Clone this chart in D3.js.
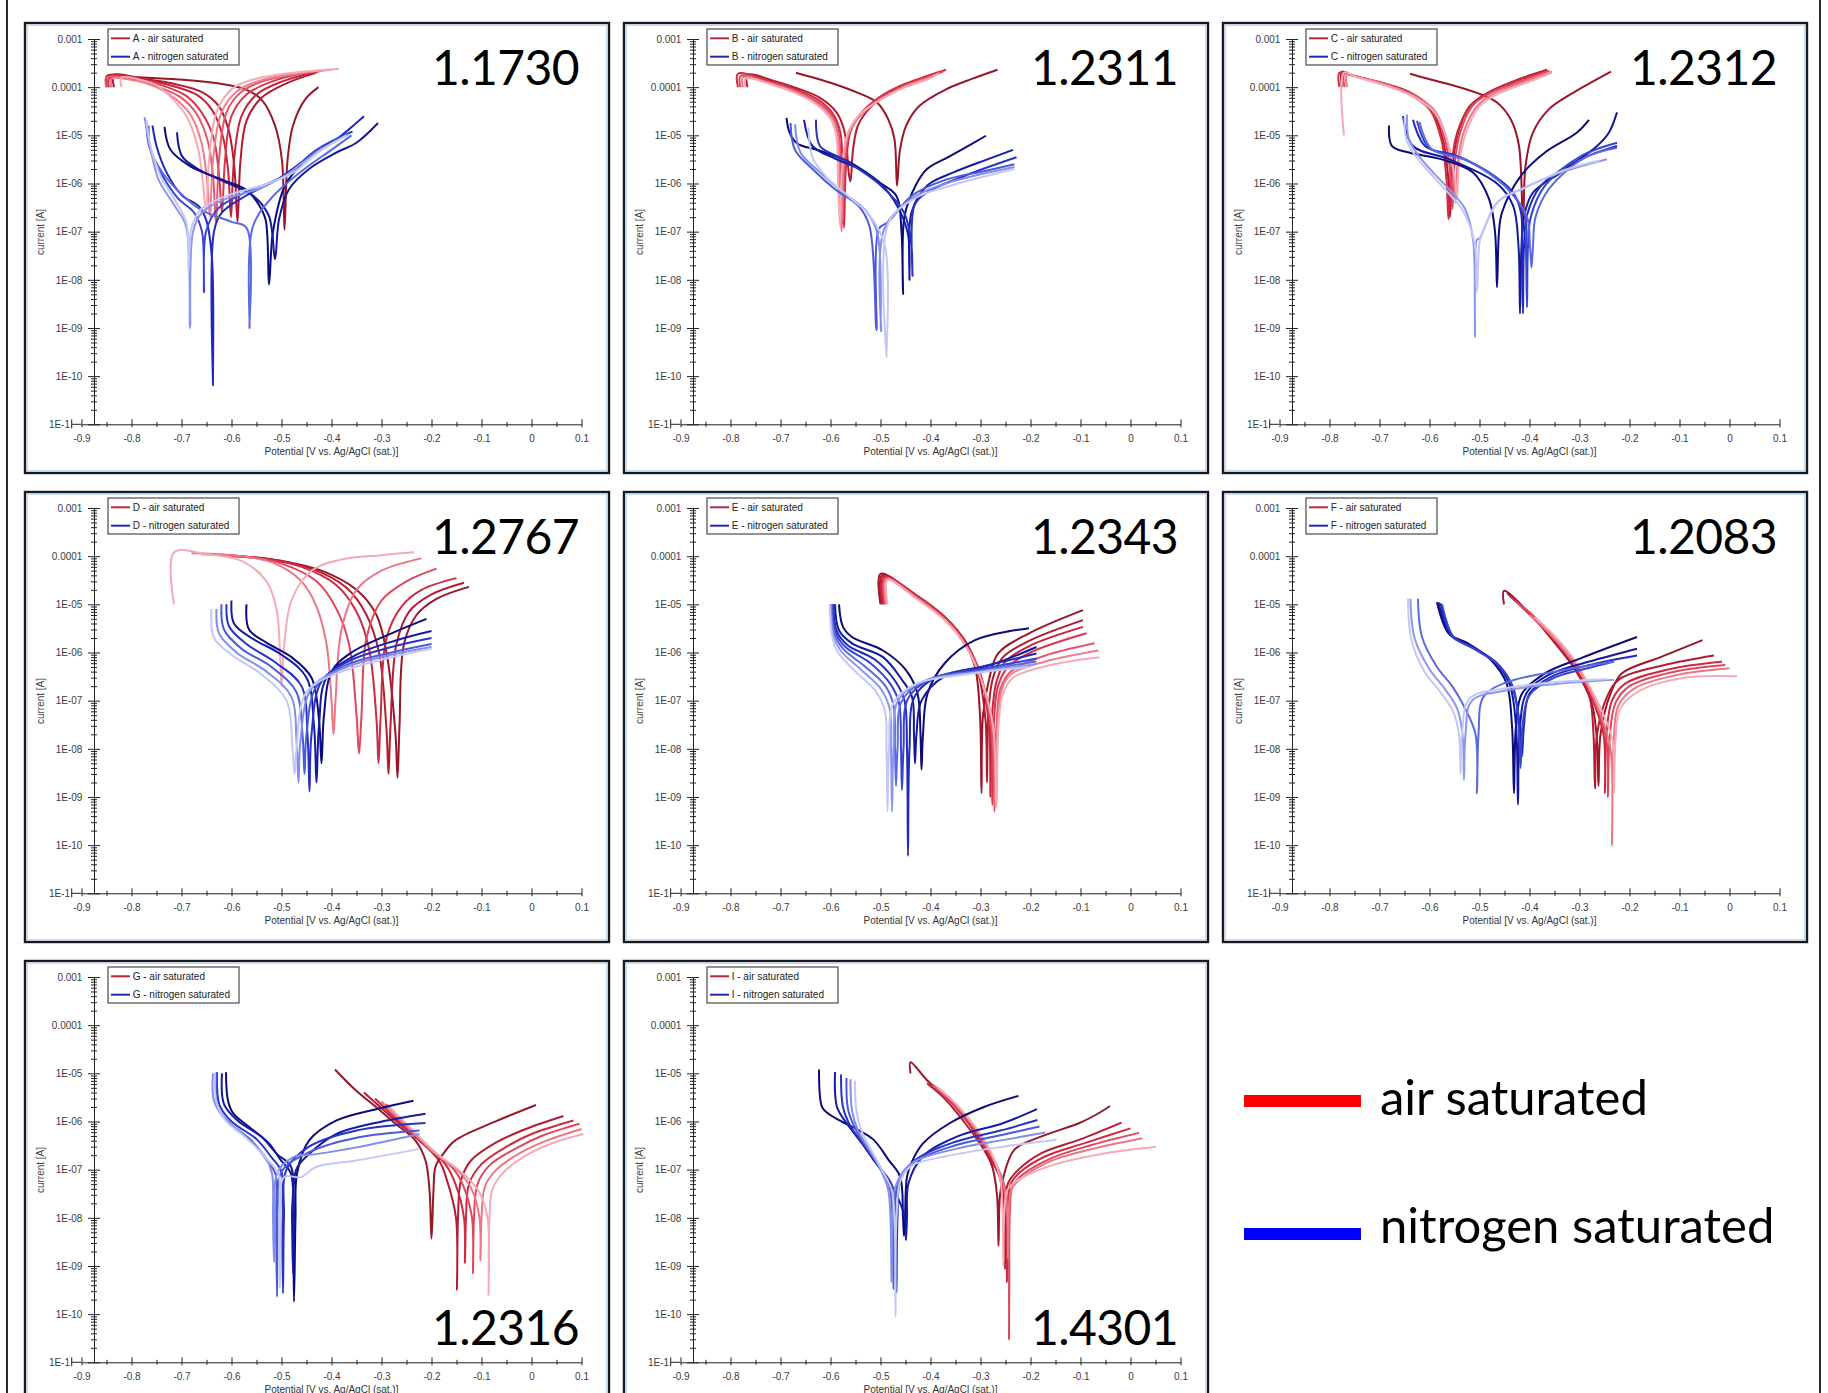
<!DOCTYPE html>
<html>
<head>
<meta charset="utf-8">
<script src="https://cdn.jsdelivr.net/npm/d3@7"></script>
<style>
  body { margin: 0; background: #fff; overflow: hidden; }
  svg { display: block; }
</style>
</head>
<body>
<svg id="fig" width="1828" height="1393"></svg>
<script>
// axis ticks
var potentialTicks = [-0.9, -0.8, -0.7, -0.6, -0.5, -0.4, -0.3, -0.2, -0.1, 0, 0.1];
var potentialLabels = ["-0.9", "-0.8", "-0.7", "-0.6", "-0.5", "-0.4", "-0.3", "-0.2", "-0.1", "0", "0.1"];
var potentialMinor = [-0.85, -0.75, -0.65, -0.55, -0.45, -0.35, -0.25, -0.15, -0.05, 0.05];
var currentTicks = [1e-3, 1e-4, 1e-5, 1e-6, 1e-7, 1e-8, 1e-9, 1e-10, 1e-11];
var currentLabels = ["0.001", "0.0001", "1E-05", "1E-06", "1E-07", "1E-08", "1E-09", "1E-10", "1E-1"];

var panelLetters = ["A", "B", "C", "D", "E", "F", "G", "I"];
var steelGrades = ["1.1730", "1.2311", "1.2312", "1.2767", "1.2343", "1.2083", "1.2316", "1.4301"];

// curves: [potential V, current A], darkest first
var A_air = [
  [[-0.849,1e-4],[-0.849,1.7e-4],[-0.785,1.6e-4],[-0.706,1.45e-4],[-0.627,1.2e-4],[-0.572,9e-5],[-0.540,5.5e-5],[-0.513,1.6e-5],[-0.499,3e-6],[-0.494,1.1e-7],[-0.488,3e-6],[-0.477,1.6e-5],[-0.453,5.5e-5],[-0.426,1e-4]],
  [[-0.835,1e-4],[-0.835,1.8e-4],[-0.78,1.5e-4],[-0.72,1.2e-4],[-0.66,8e-5],[-0.625,4e-5],[-0.605,1.2e-5],[-0.594,2e-6],[-0.588,1.6e-7],[-0.582,3e-6],[-0.57,2e-5],[-0.54,6e-5],[-0.49,1.2e-4],[-0.43,2e-4]],
  [[-0.84,1e-4],[-0.84,1.7e-4],[-0.78,1.5e-4],[-0.73,1.15e-4],[-0.67,7e-5],[-0.64,3.5e-5],[-0.618,1e-5],[-0.607,2e-6],[-0.601,2e-7],[-0.595,3e-6],[-0.58,2.5e-5],[-0.55,7e-5],[-0.50,1.3e-4],[-0.42,2.2e-4]],
  [[-0.845,1e-4],[-0.845,1.6e-4],[-0.79,1.45e-4],[-0.74,1.1e-4],[-0.69,6.5e-5],[-0.66,3e-5],[-0.636,9e-6],[-0.625,1.5e-6],[-0.619,2.5e-7],[-0.613,3e-6],[-0.60,2.5e-5],[-0.57,7e-5],[-0.52,1.3e-4],[-0.44,2.1e-4]],
  [[-0.85,1e-4],[-0.85,1.6e-4],[-0.79,1.4e-4],[-0.75,1.05e-4],[-0.70,6e-5],[-0.67,2.8e-5],[-0.648,8e-6],[-0.637,1.5e-6],[-0.631,1.5e-7],[-0.625,3e-6],[-0.61,3e-5],[-0.58,8e-5],[-0.53,1.4e-4],[-0.41,2.3e-4]],
  [[-0.84,1e-4],[-0.84,1.5e-4],[-0.79,1.35e-4],[-0.75,1e-4],[-0.71,5.5e-5],[-0.68,2.5e-5],[-0.66,7e-6],[-0.649,1.2e-6],[-0.643,2e-7],[-0.637,3e-6],[-0.62,3e-5],[-0.59,8e-5],[-0.54,1.4e-4],[-0.40,2.3e-4]],
  [[-0.82,1e-4],[-0.82,1.6e-4],[-0.78,1.4e-4],[-0.75,1.1e-4],[-0.72,6e-5],[-0.69,2.5e-5],[-0.668,6e-6],[-0.657,1e-6],[-0.651,2.5e-7],[-0.645,3e-6],[-0.63,3e-5],[-0.60,9e-5],[-0.55,1.5e-4],[-0.385,2.4e-4]]
];
var A_n2 = [
  [[-0.734,1.5e-5],[-0.722,5e-6],[-0.683,2.3e-6],[-0.619,1.2e-6],[-0.572,7.6e-7],[-0.548,4e-7],[-0.532,1.8e-7],[-0.525,8e-9],[-0.517,1e-7],[-0.493,9e-7],[-0.46,2.5e-6]],
  [[-0.709,1.15e-5],[-0.699,3.7e-6],[-0.667,2e-6],[-0.619,1.15e-6],[-0.556,5.5e-7],[-0.525,2.1e-7],[-0.513,2.7e-8],[-0.505,1.8e-7],[-0.485,7.6e-7],[-0.445,2e-6],[-0.39,4.4e-6],[-0.35,7e-6],[-0.307,1.8e-5]],
  [[-0.758,1.6e-5],[-0.75,6e-6],[-0.73,1.7e-6],[-0.698,5.5e-7],[-0.667,3.5e-7],[-0.651,1.8e-7],[-0.639,2.7e-8],[-0.637,6.5e-11],[-0.635,1e-7],[-0.619,2.5e-7],[-0.572,5.5e-7],[-0.509,1.2e-6],[-0.461,2.7e-6],[-0.39,8.3e-6],[-0.335,2.5e-5]],
  [[-0.766,1.6e-5],[-0.762,5e-6],[-0.738,1.45e-6],[-0.706,4.8e-7],[-0.675,2.5e-7],[-0.659,1e-7],[-0.655,5.5e-9],[-0.651,1e-7],[-0.627,3e-7],[-0.572,6.5e-7],[-0.493,1.45e-6],[-0.43,5e-6],[-0.358,1.2e-5]],
  [[-0.77,2e-5],[-0.765,6e-6],[-0.74,1.8e-6],[-0.70,6e-7],[-0.66,2.8e-7],[-0.60,1.6e-7],[-0.57,1.2e-7],[-0.564,1e-9],[-0.558,1.2e-7],[-0.52,5e-7],[-0.46,1.8e-6],[-0.40,5e-6],[-0.36,1e-5]],
  [[-0.774,2.4e-5],[-0.763,6e-6],[-0.746,1.2e-6],[-0.714,3.5e-7],[-0.691,1.3e-7],[-0.683,1e-9],[-0.677,1e-7],[-0.659,2.5e-7],[-0.611,4.8e-7],[-0.548,7.6e-7],[-0.493,1.45e-6],[-0.43,4.4e-6],[-0.366,1.05e-5]],
  [[-0.77,2e-5],[-0.76,5e-6],[-0.74,1.3e-6],[-0.71,4e-7],[-0.69,1.5e-7],[-0.686,1.5e-8],[-0.68,1.2e-7],[-0.66,3e-7],[-0.60,6e-7],[-0.54,9e-7],[-0.48,1.6e-6],[-0.42,5e-6],[-0.37,1e-5]]
];

var B_air = [
  [[-0.669,2e-4],[-0.636,1.6e-4],[-0.591,1.15e-4],[-0.545,7.6e-5],[-0.507,4.8e-5],[-0.484,2.1e-5],[-0.472,8.3e-6],[-0.467,9e-7],[-0.461,5e-6],[-0.449,1.55e-5],[-0.423,4e-5],[-0.369,9e-5],[-0.316,1.5e-4],[-0.266,2.3e-4]],
  [[-0.766,1e-4],[-0.766,1.8e-4],[-0.713,1.35e-4],[-0.667,9.5e-5],[-0.621,6e-5],[-0.588,3e-5],[-0.572,1.2e-5],[-0.563,1.5e-6],[-0.560,1.1e-6],[-0.555,5e-6],[-0.545,1.6e-5],[-0.52,3.8e-5],[-0.48,7.5e-5],[-0.43,1.3e-4],[-0.38,2e-4]],
  [[-0.785,1e-4],[-0.785,1.9e-4],[-0.72,1.3e-4],[-0.67,9e-5],[-0.625,5.5e-5],[-0.594,2.7e-5],[-0.58,1.1e-5],[-0.576,1e-6],[-0.573,1.2e-7],[-0.569,2.3e-6],[-0.56,1.2e-5],[-0.537,3e-5],[-0.499,6.5e-5],[-0.453,1.15e-4],[-0.407,1.7e-4],[-0.369,2.3e-4]],
  [[-0.78,1e-4],[-0.78,1.7e-4],[-0.72,1.25e-4],[-0.67,8.5e-5],[-0.627,5e-5],[-0.596,2.5e-5],[-0.583,1e-5],[-0.579,1e-6],[-0.576,1.5e-7],[-0.572,2e-6],[-0.563,1.1e-5],[-0.54,2.8e-5],[-0.50,6e-5],[-0.45,1.1e-4],[-0.40,1.7e-4],[-0.375,2.1e-4]],
  [[-0.775,1e-4],[-0.775,1.6e-4],[-0.72,1.2e-4],[-0.67,8e-5],[-0.63,4.8e-5],[-0.598,2.4e-5],[-0.585,1e-5],[-0.582,1e-6],[-0.578,1e-7],[-0.574,2e-6],[-0.565,1e-5],[-0.54,2.6e-5],[-0.50,5.5e-5],[-0.45,1.05e-4],[-0.40,1.6e-4],[-0.38,2e-4]],
  [[-0.77,1e-4],[-0.77,1.5e-4],[-0.72,1.15e-4],[-0.67,7.5e-5],[-0.63,4.5e-5],[-0.60,2.2e-5],[-0.588,9e-6],[-0.585,1e-6],[-0.581,1.3e-7],[-0.577,2e-6],[-0.567,1e-5],[-0.545,2.5e-5],[-0.50,5.5e-5],[-0.45,1e-4],[-0.40,1.55e-4],[-0.385,1.9e-4]]
];
var B_n2 = [
  [[-0.688,2.3e-5],[-0.682,1.15e-5],[-0.667,6.8e-6],[-0.621,4.8e-6],[-0.56,2.7e-6],[-0.499,1e-6],[-0.468,5.5e-7],[-0.458,1e-7],[-0.455,5e-9],[-0.452,2.1e-7],[-0.43,9e-7],[-0.407,2e-6],[-0.361,3.7e-6],[-0.289,9.8e-6]],
  [[-0.653,2.1e-5],[-0.636,6e-6],[-0.591,3.3e-6],[-0.529,1.7e-6],[-0.484,6.5e-7],[-0.446,1e-7],[-0.442,1e-8],[-0.438,2.5e-7],[-0.407,9e-7],[-0.354,1.7e-6],[-0.285,3.2e-6],[-0.235,5e-6]],
  [[-0.629,2.1e-5],[-0.621,6e-6],[-0.575,3.2e-6],[-0.499,9e-7],[-0.453,2.5e-7],[-0.438,5e-8],[-0.436,1.2e-8],[-0.432,3.5e-7],[-0.407,6.5e-7],[-0.331,1.45e-6],[-0.228,3.5e-6]],
  [[-0.68,1.8e-5],[-0.671,5e-6],[-0.636,2e-6],[-0.591,7.6e-7],[-0.545,3.5e-7],[-0.522,1.3e-7],[-0.508,9e-10],[-0.503,1.15e-7],[-0.484,1.6e-7],[-0.438,5.5e-7],[-0.369,1.2e-6],[-0.293,1.8e-6],[-0.232,2.5e-6]],
  [[-0.671,1.7e-5],[-0.66,4.4e-6],[-0.621,1.7e-6],[-0.575,6.5e-7],[-0.529,2.7e-7],[-0.506,9e-8],[-0.499,8.5e-10],[-0.493,1.1e-7],[-0.438,4.8e-7],[-0.369,1e-6],[-0.232,2.2e-6]],
  [[-0.644,1.45e-5],[-0.636,3.5e-6],[-0.606,1.3e-6],[-0.56,5e-7],[-0.522,2.2e-7],[-0.491,5e-8],[-0.488,2.5e-10],[-0.484,1.5e-7],[-0.43,5e-7],[-0.36,9e-7],[-0.232,2e-6]]
];

var C_air = [
  [[-0.639,1.9e-4],[-0.609,1.55e-4],[-0.561,1.15e-4],[-0.505,7.6e-5],[-0.465,4.8e-5],[-0.437,2.1e-5],[-0.421,6e-6],[-0.413,1e-7],[-0.408,2.3e-6],[-0.393,1.15e-5],[-0.361,3.5e-5],[-0.313,7.6e-5],[-0.237,2.1e-4]],
  [[-0.775,1e-4],[-0.775,2.1e-4],[-0.753,1.75e-4],[-0.697,1.25e-4],[-0.641,8e-5],[-0.598,3.8e-5],[-0.574,9e-6],[-0.563,1.5e-6],[-0.559,2e-7],[-0.554,2.3e-6],[-0.542,1.2e-5],[-0.52,4e-5],[-0.485,7.5e-5],[-0.43,1.35e-4],[-0.365,2.3e-4]],
  [[-0.78,1e-4],[-0.78,2e-4],[-0.75,1.7e-4],[-0.70,1.2e-4],[-0.645,7.5e-5],[-0.60,3.5e-5],[-0.576,8e-6],[-0.566,1.2e-6],[-0.562,1.8e-7],[-0.557,2e-6],[-0.545,1.1e-5],[-0.52,3.8e-5],[-0.485,7e-5],[-0.43,1.3e-4],[-0.37,2.1e-4]],
  [[-0.77,1e-4],[-0.77,1.9e-4],[-0.745,1.65e-4],[-0.69,1.2e-4],[-0.64,7.5e-5],[-0.595,3.5e-5],[-0.57,9e-6],[-0.558,1.5e-6],[-0.554,3e-7],[-0.55,2.5e-6],[-0.538,1.2e-5],[-0.515,4e-5],[-0.48,7.5e-5],[-0.42,1.3e-4],[-0.36,2.2e-4]],
  [[-0.765,1e-4],[-0.765,1.8e-4],[-0.74,1.6e-4],[-0.69,1.15e-4],[-0.635,7e-5],[-0.59,3.3e-5],[-0.565,8e-6],[-0.552,1.5e-6],[-0.548,4e-7],[-0.544,2.5e-6],[-0.53,1.3e-5],[-0.505,4e-5],[-0.47,7.5e-5],[-0.41,1.3e-4],[-0.355,2.1e-4]],
  [[-0.771,1e-5],[-0.771,2e-4],[-0.745,1.6e-4],[-0.69,1.1e-4],[-0.635,6.5e-5],[-0.59,3e-5],[-0.563,7e-6],[-0.549,1.2e-6],[-0.545,5e-7],[-0.541,2.5e-6],[-0.525,1.3e-5],[-0.50,4e-5],[-0.46,7.5e-5],[-0.40,1.3e-4],[-0.355,2e-4]]
];
var C_n2 = [
  [[-0.681,1.6e-5],[-0.675,6e-6],[-0.641,4.4e-6],[-0.577,3.2e-6],[-0.513,1.7e-6],[-0.481,4.8e-7],[-0.469,1e-7],[-0.465,7e-9],[-0.461,1e-7],[-0.455,2.5e-7],[-0.417,1.45e-6],[-0.369,4.4e-6],[-0.305,1.15e-5],[-0.281,2.1e-5]],
  [[-0.653,2.5e-5],[-0.633,6e-6],[-0.561,3.2e-6],[-0.465,1e-6],[-0.433,3.5e-7],[-0.422,5e-8],[-0.419,2e-9],[-0.416,5e-8],[-0.411,2.1e-7],[-0.393,6.5e-7],[-0.337,1.7e-6],[-0.265,6e-6],[-0.241,1.15e-5],[-0.225,3e-5]],
  [[-0.633,2.1e-5],[-0.609,6e-6],[-0.545,3.7e-6],[-0.481,1.7e-6],[-0.433,6.5e-7],[-0.417,2.5e-7],[-0.415,5e-8],[-0.413,2e-9],[-0.411,5e-8],[-0.405,2.2e-7],[-0.377,9e-7],[-0.297,3.2e-6],[-0.225,6e-6]],
  [[-0.625,2e-5],[-0.601,5.5e-6],[-0.529,3.2e-6],[-0.449,9e-7],[-0.409,2.1e-7],[-0.407,5e-8],[-0.405,2.7e-9],[-0.403,5e-8],[-0.397,2.1e-7],[-0.369,9e-7],[-0.297,3.7e-6],[-0.225,7e-6]],
  [[-0.62,1.9e-5],[-0.596,5.2e-6],[-0.525,3e-6],[-0.445,8e-7],[-0.405,2e-7],[-0.399,5e-8],[-0.396,1.8e-8],[-0.393,5e-8],[-0.388,2e-7],[-0.36,8e-7],[-0.29,3.4e-6],[-0.225,5.5e-6]],
  [[-0.645,2.7e-5],[-0.641,8.3e-6],[-0.621,3.7e-6],[-0.593,1.7e-6],[-0.561,7.6e-7],[-0.529,3e-7],[-0.513,7e-8],[-0.509,6.5e-10],[-0.505,7e-8],[-0.501,7e-8],[-0.465,4e-7],[-0.417,7.6e-7],[-0.337,1.7e-6],[-0.245,3.2e-6]],
  [[-0.65,2.4e-5],[-0.646,8e-6],[-0.626,3.5e-6],[-0.598,1.6e-6],[-0.566,7e-7],[-0.534,2.8e-7],[-0.51,6e-8],[-0.505,5.5e-9],[-0.50,6e-8],[-0.495,9e-8],[-0.46,4.5e-7],[-0.41,8e-7],[-0.33,1.9e-6],[-0.26,3e-6]]
];

var D_air = [
  [[-0.58,1e-4],[-0.50,8e-5],[-0.42,5e-5],[-0.35,2e-5],[-0.31,6e-6],[-0.29,1e-6],[-0.272,2e-8],[-0.268,2.5e-9],[-0.264,3e-8],[-0.255,1.5e-6],[-0.23,6e-6],[-0.19,1.3e-5],[-0.125,2.3e-5]],
  [[-0.60,1e-4],[-0.52,8.5e-5],[-0.44,5.5e-5],[-0.37,2.2e-5],[-0.33,6e-6],[-0.305,1e-6],[-0.29,2.5e-8],[-0.286,3e-9],[-0.282,3e-8],[-0.27,1.5e-6],[-0.245,7e-6],[-0.20,1.6e-5],[-0.135,2.8e-5]],
  [[-0.62,1.05e-4],[-0.54,9e-5],[-0.46,6e-5],[-0.39,2.5e-5],[-0.35,7e-6],[-0.325,1.2e-6],[-0.31,4e-8],[-0.306,5e-9],[-0.302,4e-8],[-0.29,2e-6],[-0.26,9e-6],[-0.22,2e-5],[-0.15,3.5e-5]],
  [[-0.66,1.1e-4],[-0.58,1e-4],[-0.50,7e-5],[-0.43,3e-5],[-0.39,8e-6],[-0.365,1.5e-6],[-0.35,5e-8],[-0.345,8e-9],[-0.34,5e-8],[-0.33,2e-6],[-0.30,1.2e-5],[-0.25,3e-5],[-0.19,5.5e-5]],
  [[-0.68,1.15e-4],[-0.60,1.05e-4],[-0.52,7.5e-5],[-0.46,3e-5],[-0.43,9e-6],[-0.41,1.5e-6],[-0.40,1e-7],[-0.396,2e-8],[-0.392,1e-7],[-0.38,3e-6],[-0.35,2e-5],[-0.30,5e-5],[-0.22,9e-5]],
  [[-0.715,1e-5],[-0.715,1.2e-4],[-0.65,1.1e-4],[-0.58,8e-5],[-0.53,3e-5],[-0.51,8e-6],[-0.503,1e-6],[-0.50,2e-7],[-0.496,1e-6],[-0.48,1.2e-5],[-0.44,5e-5],[-0.38,8.5e-5],[-0.30,1.05e-4],[-0.235,1.2e-4]]
];
var D_n2 = [
  [[-0.57,1e-5],[-0.565,3e-6],[-0.53,1.6e-6],[-0.48,8e-7],[-0.44,3e-7],[-0.425,4e-8],[-0.42,5e-9],[-0.415,5e-8],[-0.40,4e-7],[-0.36,1e-6],[-0.28,2.5e-6],[-0.21,5e-6]],
  [[-0.60,1.2e-5],[-0.595,4e-6],[-0.56,2e-6],[-0.50,9e-7],[-0.45,3e-7],[-0.435,3e-8],[-0.43,2e-9],[-0.425,3e-8],[-0.41,3e-7],[-0.35,9e-7],[-0.27,1.8e-6],[-0.20,2.8e-6]],
  [[-0.61,1e-5],[-0.605,3.5e-6],[-0.57,1.5e-6],[-0.51,6e-7],[-0.46,2e-7],[-0.448,2e-8],[-0.444,1.3e-9],[-0.44,2e-8],[-0.42,2.5e-7],[-0.36,7e-7],[-0.28,1.3e-6],[-0.20,2e-6]],
  [[-0.62,1e-5],[-0.615,3e-6],[-0.58,1.2e-6],[-0.52,5e-7],[-0.47,1.5e-7],[-0.458,2e-8],[-0.454,3e-9],[-0.45,2e-8],[-0.43,2e-7],[-0.37,5.5e-7],[-0.28,1e-6],[-0.20,1.5e-6]],
  [[-0.63,8e-6],[-0.625,2.5e-6],[-0.59,1e-6],[-0.53,4e-7],[-0.48,1.2e-7],[-0.47,1.5e-8],[-0.466,2e-9],[-0.462,1.5e-8],[-0.44,1.8e-7],[-0.37,5e-7],[-0.28,9e-7],[-0.20,1.3e-6]],
  [[-0.64,8e-6],[-0.635,2e-6],[-0.60,9e-7],[-0.54,3.5e-7],[-0.49,1e-7],[-0.478,1e-8],[-0.474,3e-9],[-0.47,1e-8],[-0.45,1.5e-7],[-0.38,4e-7],[-0.28,8e-7],[-0.20,1.2e-6]]
];

var E_air = [
  [[-0.50,1e-5],[-0.50,4.3e-5],[-0.434,1.65e-5],[-0.372,5.5e-6],[-0.334,1.8e-6],[-0.311,5e-7],[-0.301,5e-8],[-0.298,1.2e-9],[-0.295,5e-8],[-0.283,2.7e-7],[-0.265,9.5e-7],[-0.203,2.5e-6],[-0.095,7.6e-6]],
  [[-0.497,1e-5],[-0.497,4e-5],[-0.43,1.6e-5],[-0.37,5.3e-6],[-0.33,1.7e-6],[-0.305,4e-7],[-0.29,4e-8],[-0.287,2e-9],[-0.284,6e-8],[-0.275,3e-7],[-0.255,8e-7],[-0.20,1.8e-6],[-0.095,4.7e-6]],
  [[-0.495,1e-5],[-0.495,3.8e-5],[-0.43,1.55e-5],[-0.37,5.2e-6],[-0.33,1.6e-6],[-0.30,3.5e-7],[-0.283,3e-8],[-0.28,1e-9],[-0.277,5e-8],[-0.268,2.5e-7],[-0.25,6.5e-7],[-0.20,1.4e-6],[-0.095,3.4e-6]],
  [[-0.492,1e-5],[-0.492,3.6e-5],[-0.43,1.5e-5],[-0.37,5e-6],[-0.33,1.5e-6],[-0.30,3.5e-7],[-0.28,3e-8],[-0.276,7e-10],[-0.273,4e-8],[-0.265,2e-7],[-0.245,5e-7],[-0.20,1e-6],[-0.088,2.5e-6]],
  [[-0.49,1e-5],[-0.49,3.5e-5],[-0.43,1.45e-5],[-0.37,4.8e-6],[-0.33,1.5e-6],[-0.30,3.2e-7],[-0.278,3e-8],[-0.272,5e-10],[-0.268,3e-8],[-0.26,1.8e-7],[-0.24,4e-7],[-0.18,8e-7],[-0.072,1.55e-6]],
  [[-0.488,1e-5],[-0.488,3.3e-5],[-0.43,1.4e-5],[-0.37,4.6e-6],[-0.33,1.4e-6],[-0.30,3e-7],[-0.275,3e-8],[-0.27,7e-10],[-0.266,3e-8],[-0.258,1.6e-7],[-0.24,3.5e-7],[-0.17,6.5e-7],[-0.064,1.1e-6]],
  [[-0.486,1e-5],[-0.486,3.2e-5],[-0.43,1.35e-5],[-0.37,4.5e-6],[-0.33,1.4e-6],[-0.30,3e-7],[-0.275,3e-8],[-0.268,6e-10],[-0.264,3e-8],[-0.255,1.4e-7],[-0.235,3e-7],[-0.16,5.5e-7],[-0.062,8e-7]]
];
var E_n2 = [
  [[-0.583,1e-5],[-0.575,3.4e-6],[-0.557,2.1e-6],[-0.495,1.1e-6],[-0.449,4.3e-7],[-0.426,1.4e-7],[-0.42,2e-8],[-0.418,3.7e-9],[-0.415,2e-8],[-0.406,1.4e-7],[-0.372,5.9e-7],[-0.311,1.8e-6],[-0.203,3.2e-6]],
  [[-0.591,1e-5],[-0.583,2.9e-6],[-0.557,1.55e-6],[-0.495,8e-7],[-0.457,2.7e-7],[-0.437,1.2e-7],[-0.433,2e-8],[-0.431,5e-9],[-0.428,2e-8],[-0.418,1e-7],[-0.372,3.2e-7],[-0.28,5.5e-7],[-0.188,1.3e-6]],
  [[-0.594,1e-5],[-0.587,2.7e-6],[-0.565,1.4e-6],[-0.51,7e-7],[-0.47,2.5e-7],[-0.452,1e-7],[-0.447,1e-8],[-0.445,6e-11],[-0.442,1e-8],[-0.432,1.2e-7],[-0.39,3e-7],[-0.30,5e-7],[-0.188,9.5e-7]],
  [[-0.596,1e-5],[-0.59,2.6e-6],[-0.57,1.3e-6],[-0.52,6e-7],[-0.48,2.2e-7],[-0.463,9e-8],[-0.459,1e-8],[-0.457,1.4e-9],[-0.454,1e-8],[-0.445,1.1e-7],[-0.40,2.8e-7],[-0.30,4.5e-7],[-0.188,7.5e-7]],
  [[-0.598,1e-5],[-0.592,2.4e-6],[-0.575,1.2e-6],[-0.53,5e-7],[-0.49,2e-7],[-0.474,8e-8],[-0.471,1e-8],[-0.469,1.7e-9],[-0.466,1e-8],[-0.457,1e-7],[-0.41,2.6e-7],[-0.30,4.2e-7],[-0.188,6.5e-7]],
  [[-0.60,1e-5],[-0.594,2.2e-6],[-0.58,1.1e-6],[-0.54,4.5e-7],[-0.50,1.8e-7],[-0.482,7e-8],[-0.479,1e-8],[-0.477,5e-10],[-0.474,1e-8],[-0.465,1e-7],[-0.42,2.4e-7],[-0.30,4e-7],[-0.188,5.8e-7]],
  [[-0.602,1e-5],[-0.596,2e-6],[-0.585,1e-6],[-0.55,4e-7],[-0.51,1.6e-7],[-0.491,6e-8],[-0.488,1e-8],[-0.486,5e-10],[-0.483,1e-8],[-0.474,9e-8],[-0.43,2.2e-7],[-0.32,3.6e-7],[-0.203,5e-7]]
];

var F_air = [
  [[-0.451,1e-5],[-0.451,1.9e-5],[-0.40,6.5e-6],[-0.354,1.8e-6],[-0.308,4.3e-7],[-0.277,1e-7],[-0.266,2e-8],[-0.262,1.7e-9],[-0.258,2e-8],[-0.238,1.4e-7],[-0.215,3.7e-7],[-0.138,8e-7],[-0.054,1.8e-6]],
  [[-0.445,1.7e-5],[-0.40,6.5e-6],[-0.354,1.9e-6],[-0.308,4.6e-7],[-0.28,1.2e-7],[-0.272,2e-8],[-0.269,1.5e-9],[-0.265,2e-8],[-0.245,1.2e-7],[-0.22,2.8e-7],[-0.13,5.5e-7],[-0.031,8.7e-7]],
  [[-0.44,1.5e-5],[-0.40,6.2e-6],[-0.35,1.8e-6],[-0.305,4.5e-7],[-0.275,1.1e-7],[-0.252,2e-8],[-0.249,1.2e-9],[-0.246,2e-8],[-0.235,1e-7],[-0.21,2.2e-7],[-0.12,4.5e-7],[-0.015,6.4e-7]],
  [[-0.43,1.2e-5],[-0.39,5.5e-6],[-0.345,1.7e-6],[-0.30,4.2e-7],[-0.27,1e-7],[-0.246,1.5e-8],[-0.243,1e-9],[-0.24,1.5e-8],[-0.228,9e-8],[-0.20,2e-7],[-0.11,4e-7],[-0.008,5.5e-7]],
  [[-0.40,6e-6],[-0.36,2.5e-6],[-0.32,8e-7],[-0.285,2.2e-7],[-0.26,6e-8],[-0.238,1e-8],[-0.235,1e-10],[-0.232,1e-8],[-0.222,8e-8],[-0.19,1.8e-7],[-0.10,3.5e-7],[0.0,4.7e-7]],
  [[-0.39,5.5e-6],[-0.35,2.2e-6],[-0.31,7e-7],[-0.28,2e-7],[-0.255,6e-8],[-0.234,1.5e-8],[-0.231,1.2e-9],[-0.228,1.5e-8],[-0.218,7e-8],[-0.18,1.6e-7],[-0.09,3e-7],[0.015,3.2e-7]]
];
var F_n2 = [
  [[-0.585,1.1e-5],[-0.562,2.5e-6],[-0.523,1.55e-6],[-0.477,7e-7],[-0.446,2.3e-7],[-0.435,3e-8],[-0.431,1.2e-9],[-0.427,3e-8],[-0.415,1.4e-7],[-0.369,3.7e-7],[-0.292,8e-7],[-0.185,2.1e-6]],
  [[-0.582,1.1e-5],[-0.558,2.3e-6],[-0.52,1.4e-6],[-0.47,6.5e-7],[-0.44,2.2e-7],[-0.427,3e-8],[-0.423,7e-10],[-0.419,3e-8],[-0.405,1.5e-7],[-0.36,3.5e-7],[-0.28,6.5e-7],[-0.185,1.2e-6]],
  [[-0.578,1.05e-5],[-0.555,2.2e-6],[-0.515,1.3e-6],[-0.465,6e-7],[-0.435,2e-7],[-0.419,3e-8],[-0.415,7e-9],[-0.411,3e-8],[-0.40,1.4e-7],[-0.355,3.2e-7],[-0.28,5.5e-7],[-0.185,8.7e-7]],
  [[-0.575,1e-5],[-0.552,2.1e-6],[-0.512,1.2e-6],[-0.462,5.5e-7],[-0.432,1.8e-7],[-0.422,3e-8],[-0.418,4e-9],[-0.414,3e-8],[-0.40,1.3e-7],[-0.35,3e-7],[-0.28,4.8e-7],[-0.231,6.5e-7]],
  [[-0.623,1.3e-5],[-0.615,2.1e-6],[-0.585,5e-7],[-0.554,1.95e-7],[-0.531,7.6e-8],[-0.508,2e-8],[-0.505,1.2e-9],[-0.502,2e-8],[-0.492,1.2e-7],[-0.446,2.4e-7],[-0.35,4e-7],[-0.231,6.5e-7]],
  [[-0.638,1.3e-5],[-0.63,2e-6],[-0.60,4.5e-7],[-0.57,1.8e-7],[-0.545,7e-8],[-0.534,2e-8],[-0.531,2.3e-9],[-0.528,2e-8],[-0.515,1e-7],[-0.45,1.6e-7],[-0.35,2.2e-7],[-0.231,2.7e-7]],
  [[-0.643,1.3e-5],[-0.636,1.8e-6],[-0.61,4e-7],[-0.58,1.6e-7],[-0.553,6e-8],[-0.541,2e-8],[-0.538,3e-9],[-0.535,2e-8],[-0.52,1.1e-7],[-0.45,1.8e-7],[-0.35,2.4e-7],[-0.245,2.8e-7]]
];

var G_air = [
  [[-0.393,1.2e-5],[-0.351,4.4e-6],[-0.311,2e-6],[-0.272,9e-7],[-0.232,4e-7],[-0.212,1.55e-7],[-0.204,3.7e-8],[-0.2,3.7e-9],[-0.196,3.7e-8],[-0.192,1.15e-7],[-0.177,2.1e-7],[-0.153,4e-7],[-0.074,9.8e-7],[0.009,2.2e-6]],
  [[-0.335,4e-6],[-0.272,1.05e-6],[-0.224,4e-7],[-0.185,1.55e-7],[-0.169,6e-8],[-0.151,1e-8],[-0.149,3.2e-10],[-0.147,1e-8],[-0.141,6e-8],[-0.121,1.55e-7],[-0.074,3.5e-7],[-0.019,6.5e-7],[0.064,1.3e-6]],
  [[-0.313,3e-6],[-0.26,9e-7],[-0.21,3.2e-7],[-0.17,1.2e-7],[-0.152,5e-8],[-0.135,1e-8],[-0.133,1.15e-9],[-0.131,1e-8],[-0.125,5e-8],[-0.10,1.3e-7],[-0.05,3e-7],[0.0,5.5e-7],[0.084,1.05e-6]],
  [[-0.291,2.3e-6],[-0.25,8e-7],[-0.20,2.6e-7],[-0.155,1e-7],[-0.136,4.5e-8],[-0.119,1e-8],[-0.117,7e-10],[-0.115,1e-8],[-0.108,5e-8],[-0.085,1.2e-7],[-0.03,2.8e-7],[0.02,5e-7],[0.096,9e-7]],
  [[-0.30,2.6e-6],[-0.25,8e-7],[-0.20,2.5e-7],[-0.145,9e-8],[-0.12,4e-8],[-0.104,1e-8],[-0.102,1.3e-9],[-0.1,1e-8],[-0.093,4.5e-8],[-0.07,1e-7],[-0.02,2.3e-7],[0.03,4e-7],[0.10,7e-7]],
  [[-0.288,2.2e-6],[-0.24,7e-7],[-0.19,2.2e-7],[-0.135,8e-8],[-0.105,3.5e-8],[-0.088,1e-8],[-0.086,2.5e-10],[-0.084,1e-8],[-0.078,4e-8],[-0.055,9e-8],[-0.01,2e-7],[0.04,3.5e-7],[0.104,5.5e-7]]
];
var G_n2 = [
  [[-0.611,1.05e-5],[-0.607,2.7e-6],[-0.596,1.45e-6],[-0.564,7.6e-7],[-0.525,3.5e-7],[-0.501,1.55e-7],[-0.481,8.3e-8],[-0.477,1e-8],[-0.475,1.8e-10],[-0.472,1e-8],[-0.469,8.3e-8],[-0.445,4e-7],[-0.39,1.05e-6],[-0.311,1.8e-6],[-0.236,2.7e-6]],
  [[-0.619,1e-5],[-0.615,2.3e-6],[-0.588,1.05e-6],[-0.54,4.8e-7],[-0.509,2.1e-7],[-0.481,1.15e-7],[-0.479,1e-8],[-0.477,7e-10],[-0.475,1e-8],[-0.471,9.8e-8],[-0.445,2.1e-7],[-0.39,5.5e-7],[-0.303,9.8e-7],[-0.212,1.45e-6]],
  [[-0.629,1.05e-5],[-0.624,2.2e-6],[-0.60,1e-6],[-0.55,4.3e-7],[-0.52,1.8e-7],[-0.50,9e-8],[-0.499,1e-8],[-0.497,2.7e-10],[-0.495,1e-8],[-0.49,1e-7],[-0.445,3e-7],[-0.35,6.5e-7],[-0.212,9.3e-7]],
  [[-0.631,1e-5],[-0.627,2e-6],[-0.605,9.5e-7],[-0.56,4e-7],[-0.53,1.6e-7],[-0.512,8e-8],[-0.511,1e-8],[-0.509,2.3e-10],[-0.507,1e-8],[-0.50,9e-8],[-0.445,2.3e-7],[-0.35,4.6e-7],[-0.224,6.5e-7]],
  [[-0.637,1e-5],[-0.635,2.7e-6],[-0.611,1.05e-6],[-0.572,4.8e-7],[-0.532,1.8e-7],[-0.519,8.3e-8],[-0.517,1e-8],[-0.515,1.2e-9],[-0.513,1e-8],[-0.509,8.3e-8],[-0.477,1.8e-7],[-0.43,2.1e-7],[-0.35,2.9e-7],[-0.224,5.5e-7]],
  [[-0.633,1.05e-5],[-0.63,2.5e-6],[-0.61,1e-6],[-0.57,4.5e-7],[-0.53,1.7e-7],[-0.506,8e-8],[-0.505,1e-8],[-0.503,3.5e-10],[-0.501,1e-8],[-0.495,7e-8],[-0.461,7e-8],[-0.43,1.15e-7],[-0.35,1.55e-7],[-0.224,2.7e-7]]
];

var I_air = [
  [[-0.44,1e-5],[-0.44,1.7e-5],[-0.407,7.2e-6],[-0.369,3.3e-6],[-0.331,1.26e-6],[-0.30,3.5e-7],[-0.277,1.2e-7],[-0.267,3e-8],[-0.264,2.6e-9],[-0.261,3e-8],[-0.254,7.2e-8],[-0.232,2.6e-7],[-0.178,4.9e-7],[-0.102,9.3e-7],[-0.063,1.5e-6],[-0.041,2.1e-6]],
  [[-0.407,6.2e-6],[-0.369,2.8e-6],[-0.331,9.3e-7],[-0.293,2.6e-7],[-0.262,7.2e-8],[-0.253,1.5e-8],[-0.251,8.5e-10],[-0.249,1.5e-8],[-0.245,5.2e-8],[-0.224,1e-7],[-0.178,2.2e-7],[-0.102,4.2e-7],[-0.018,9.5e-7]],
  [[-0.40,6e-6],[-0.36,2.6e-6],[-0.32,8e-7],[-0.285,2.3e-7],[-0.26,6.5e-8],[-0.249,1.5e-8],[-0.247,4.6e-10],[-0.245,1.5e-8],[-0.24,5e-8],[-0.22,9e-8],[-0.17,1.9e-7],[-0.09,3.6e-7],[0.0,7.2e-7]],
  [[-0.396,5.6e-6],[-0.355,2.4e-6],[-0.315,7.5e-7],[-0.28,2.1e-7],[-0.255,6e-8],[-0.245,1.5e-8],[-0.243,3e-11],[-0.241,1.5e-8],[-0.236,4.5e-8],[-0.215,8e-8],[-0.16,1.7e-7],[-0.08,3.2e-7],[0.017,5.8e-7]],
  [[-0.392,5.5e-6],[-0.35,2.3e-6],[-0.31,7e-7],[-0.278,2e-7],[-0.255,5.5e-8],[-0.247,1.5e-8],[-0.245,1.4e-9],[-0.243,1.5e-8],[-0.238,4e-8],[-0.215,7e-8],[-0.16,1.5e-7],[-0.07,2.8e-7],[0.024,4.5e-7]],
  [[-0.384,5e-6],[-0.345,2.1e-6],[-0.305,6.5e-7],[-0.275,1.9e-7],[-0.26,6e-8],[-0.256,1.5e-8],[-0.254,1e-9],[-0.252,1.5e-8],[-0.245,4e-8],[-0.22,6.5e-8],[-0.15,1.3e-7],[-0.05,2.2e-7],[0.051,3e-7]]
];
var I_n2 = [
  [[-0.623,1.2e-5],[-0.617,2e-6],[-0.606,1.5e-6],[-0.583,1.07e-6],[-0.545,6.7e-7],[-0.514,4.2e-7],[-0.484,1.6e-7],[-0.461,7.2e-8],[-0.455,1e-8],[-0.453,4.2e-9],[-0.451,1e-8],[-0.447,7.2e-8],[-0.438,1.4e-7],[-0.415,3.5e-7],[-0.361,9.3e-7],[-0.293,2e-6],[-0.224,3.4e-6]],
  [[-0.591,1.07e-5],[-0.587,2e-6],[-0.568,9.3e-7],[-0.537,3.5e-7],[-0.514,1.6e-7],[-0.484,6.2e-8],[-0.451,1e-8],[-0.449,3.5e-9],[-0.447,1e-8],[-0.444,5.2e-8],[-0.415,1.9e-7],[-0.346,4.9e-7],[-0.254,9.3e-7],[-0.187,1.8e-6]],
  [[-0.579,9.5e-6],[-0.575,2e-6],[-0.56,8e-7],[-0.53,3e-7],[-0.505,1.2e-7],[-0.478,5e-8],[-0.47,1e-8],[-0.468,2.8e-10],[-0.466,1e-8],[-0.46,6e-8],[-0.43,1.6e-7],[-0.35,3.8e-7],[-0.26,6.5e-7],[-0.186,1.07e-6]],
  [[-0.568,8e-6],[-0.565,1.8e-6],[-0.55,7e-7],[-0.525,2.6e-7],[-0.50,1.1e-7],[-0.482,4.5e-8],[-0.476,1e-8],[-0.474,3.3e-10],[-0.472,1e-8],[-0.465,5e-8],[-0.435,1.4e-7],[-0.35,3.2e-7],[-0.26,5.2e-7],[-0.182,7.9e-7]],
  [[-0.56,7.5e-6],[-0.557,1.7e-6],[-0.545,6.5e-7],[-0.52,2.4e-7],[-0.50,1e-7],[-0.485,4e-8],[-0.48,1e-8],[-0.478,4.6e-10],[-0.476,1e-8],[-0.47,4.5e-8],[-0.44,1.3e-7],[-0.35,2.7e-7],[-0.25,4.2e-7],[-0.17,5.9e-7]],
  [[-0.551,7e-6],[-0.548,1.6e-6],[-0.537,6e-7],[-0.515,2.2e-7],[-0.495,9e-8],[-0.478,4e-8],[-0.472,1e-8],[-0.47,9e-11],[-0.468,1e-8],[-0.46,6e-8],[-0.438,1.2e-7],[-0.369,1.9e-7],[-0.254,3e-7],[-0.148,4.2e-7]]
];

var airSets = [A_air, B_air, C_air, D_air, E_air, F_air, G_air, I_air];
var n2Sets = [A_n2, B_n2, C_n2, D_n2, E_n2, F_n2, G_n2, I_n2];

var svg = d3.select("#fig");
var W = 1828, H = 1393;

// panel grid
var colX = [25, 624, 1223];
var rowY = [23, 492, 961];
var pw = 584, ph = 450;

var x = d3.scaleLinear().domain([-0.9, 0.1]).range([56.5, 556.5]);
var y = d3.scaleLog().domain([1e-11, 1e-3]).range([401.3, 16]);

var airColor = d3.interpolateRgbBasis(["#9a1628", "#e0213c", "#f5aab6"]);
var n2Color = d3.interpolateRgbBasis(["#0b0b7e", "#1f31dd", "#c3c8f5"]);

var lineGen = d3.line()
  .x(d => x(d[0]))
  .y(d => y(d[1]))
  .curve(d3.curveCatmullRom.alpha(0.5));

// minor log ticks
var minorI = [];
for (let e = -11; e < -3; e++) {
  for (let k = 2; k <= 9; k++) minorI.push(k * Math.pow(10, e));
}

// table borders
svg.append("line").attr("x1", 7).attr("x2", 7).attr("y1", 0).attr("y2", H)
  .attr("stroke", "#2b2b2b").attr("stroke-width", 2);
svg.append("line").attr("x1", 1820).attr("x2", 1820).attr("y1", 0).attr("y2", H)
  .attr("stroke", "#2b2b2b").attr("stroke-width", 2);

var font = "'Liberation Sans', Arial, sans-serif";

panelLetters.forEach((letter, i) => {
  let col = i % 3, row = Math.floor(i / 3);
  let g = svg.append("g").attr("transform", "translate(" + colX[col] + "," + rowY[row] + ")");

  g.append("rect").attr("width", pw).attr("height", ph)
    .attr("fill", "#fff").attr("stroke", "#161a24").attr("stroke-width", 2.4);
  g.append("rect").attr("x", 2.3).attr("y", 2.3).attr("width", pw - 4.6).attr("height", ph - 4.6)
    .attr("fill", "none").attr("stroke", "#bcd3ea").attr("stroke-width", 1);

  // curves
  let air = airSets[i], n2 = n2Sets[i];
  let cg = g.append("g");
  air.forEach((c, k) => {
    cg.append("path").attr("d", lineGen(c)).attr("fill", "none")
      .attr("stroke", airColor(air.length > 1 ? k / (air.length - 1) : 0))
      .attr("stroke-width", 2).attr("stroke-linejoin", "round");
  });
  n2.forEach((c, k) => {
    cg.append("path").attr("d", lineGen(c)).attr("fill", "none")
      .attr("stroke", n2Color(n2.length > 1 ? k / (n2.length - 1) : 0))
      .attr("stroke-width", 2).attr("stroke-linejoin", "round");
  });

  // y axis
  let yAxisX = x(-0.875);
  let yg = g.append("g").attr("transform", "translate(" + yAxisX + ",0)")
    .call(d3.axisLeft(y).tickValues(currentTicks).tickFormat((d, k) => currentLabels[k])
      .tickSizeInner(6).tickSizeOuter(0));
  yg.selectAll(".tick line").attr("x1", 6);
  yg.selectAll(".tick text").attr("x", -11.6);
  yg.selectAll(".tick").filter(d => d === 1e-11).select("text").attr("x", 45 - yAxisX);
  let ym = g.append("g").attr("transform", "translate(" + yAxisX + ",0)")
    .call(d3.axisLeft(y).tickValues(minorI).tickFormat("").tickSizeInner(3).tickSizeOuter(0));
  ym.select(".domain").remove();
  ym.selectAll(".tick line").attr("x1", 3);

  // x axis
  let axisY = y(1e-11);
  let xg = g.append("g").attr("transform", "translate(0," + axisY + ")")
    .call(d3.axisBottom(x).tickValues(potentialTicks).tickFormat((d, k) => potentialLabels[k])
      .tickSizeInner(3).tickSizeOuter(0));
  xg.selectAll(".tick line").attr("y1", -5);
  xg.selectAll(".tick text").attr("y", 10.5);
  let xm = g.append("g").attr("transform", "translate(0," + axisY + ")")
    .call(d3.axisBottom(x).tickValues(potentialMinor).tickFormat("").tickSizeInner(2.5).tickSizeOuter(0));
  xm.select(".domain").remove();
  xm.selectAll(".tick line").attr("y1", -2.5);
  // left end of x axis
  g.append("line").attr("x1", 46.7).attr("x2", x(-0.9)).attr("y1", axisY).attr("y2", axisY)
    .attr("stroke", "#222").attr("stroke-width", 1);
  g.append("line").attr("x1", 46.7).attr("x2", 46.7).attr("y1", axisY - 5).attr("y2", axisY + 4)
    .attr("stroke", "#222").attr("stroke-width", 1);

  g.selectAll(".domain, .tick line").attr("stroke", "#222").attr("stroke-width", 1);
  g.selectAll(".tick text").attr("fill", "#3c3c3c").style("font-family", font).style("font-size", "10px");

  // axis titles
  g.append("text").attr("transform", "translate(15.5,209) rotate(-90)")
    .attr("text-anchor", "middle").attr("dy", "0.35em")
    .style("font-family", font).style("font-size", "10px").attr("fill", "#444")
    .text("current [A]");
  g.append("text").attr("x", x(-0.4)).attr("y", 432).attr("text-anchor", "middle")
    .style("font-family", font).style("font-size", "10px").attr("fill", "#333")
    .text("Potential [V vs. Ag/AgCl (sat.)]");

  // small legend
  let lg = g.append("g").attr("transform", "translate(83,6)");
  lg.append("rect").attr("width", 131).attr("height", 36)
    .attr("fill", "#fff").attr("stroke", "#4a4a4a").attr("stroke-width", 1.2);
  [["air saturated", "#b8283c"], ["nitrogen saturated", "#2626b0"]].forEach((e, k) => {
    let ly = 9.3 + k * 18.4;
    lg.append("line").attr("x1", 3).attr("x2", 22).attr("y1", ly).attr("y2", ly)
      .attr("stroke", e[1]).attr("stroke-width", 2);
    lg.append("text").attr("x", 24.7).attr("y", ly).attr("dy", "0.35em")
      .style("font-family", font).style("font-size", "10px").attr("fill", "#222")
      .text(letter + " - " + e[0]);
  });

  // steel grade label
  g.append("text").attr("x", 554).attr("y", row === 2 ? 384 : 62).attr("text-anchor", "end")
    .style("font-family", "Lato, 'Open Sans', sans-serif").style("font-size", "48px")
    .style("letter-spacing", "-0.6px").attr("fill", "#000")
    .text(steelGrades[i]);
});

// overall legend
var legendItems = [["air saturated", "#ff0000", 1101, 1115], ["nitrogen saturated", "#0000ff", 1234, 1243]];
legendItems.forEach(e => {
  svg.append("rect").attr("x", 1244).attr("y", e[2] - 6).attr("width", 117).attr("height", 12)
    .attr("fill", e[1]);
  svg.append("text").attr("x", 1380).attr("y", e[3])
    .style("font-family", "Lato, 'Open Sans', sans-serif").style("font-size", "49px")
    .attr("fill", "#000").text(e[0]);
});
</script>
</body>
</html>
